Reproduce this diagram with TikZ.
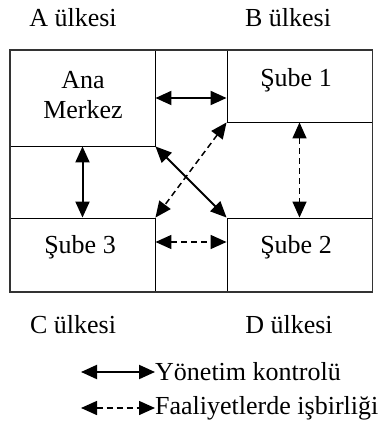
\documentclass[tikz,border=0pt]{standalone}
\usepackage{fontspec}
\setmainfont{Liberation Serif}
\usetikzlibrary{arrows.meta}
\begin{document}
\begin{tikzpicture}[x=1pt,y=-1pt,
  every node/.style={font=\fontsize{26}{30}\selectfont, inner sep=0pt},
  box/.style={draw, line width=0.9pt, rectangle, minimum width=145pt},
  frame/.style={draw, line width=1.6pt, black!80},
  tip/.tip={Triangle[length=16pt,width=14pt]},
  ctrl/.style={line width=2pt, tip-tip},
  coop/.style={line width=1.5pt, dash pattern=on 6pt off 4pt, tip-tip},
  lbl/.style={align=center}]
\useasboundingbox (0,0) rectangle (384,435);
% boxes
\node[box, minimum height=96pt] (am) at (82.5,98) {};
\node[box, minimum height=72pt] (s1) at (299.5,86) {};
\node[box, minimum height=74pt] (s3) at (82.5,255) {};
\node[box, minimum height=74pt] (s2) at (299.5,255) {};
\draw[frame] (10,50) rectangle (372.5,292);
% box texts
\node[lbl] (tam) at (83,95) {Ana\\[0pt]Merkez};
\node (ts1) at (296,80) {Şube 1};
\node (ts3) at (80,247) {Şube 3};
\node (ts2) at (296,247) {Şube 2};
% country labels
\node (ca) at (73,18) {A ülkesi};
\node (cb) at (288,18) {B ülkesi};
\node (cc) at (73,325) {C ülkesi};
\node (cd) at (289,325) {D ülkesi};
% connectors
\draw[ctrl] (am.east) -- (am.east -| s1.west);
\draw[ctrl] (am.south) -- (s3.north);
\draw[ctrl] (am.south east) -- (s2.north west);
\draw[coop] (s1.south west) -- (s3.north east);
\draw[coop] (s1.south) -- (s2.north);
\draw[coop] ([yshift=13pt]s3.east) -- ([yshift=13pt]s2.west);
% legend
\coordinate (l1) at (81,372);
\coordinate (l2) at (81,408);
\node[anchor=west] (t1) at (155,372) {Yönetim kontrolü};
\node[anchor=west] (t2) at (155,408) {Faaliyetlerde işbirliği};
\draw[ctrl] (l1) -- (t1.west);
\draw[coop] (l2) -- (t2.west);
\end{tikzpicture}
\end{document}
